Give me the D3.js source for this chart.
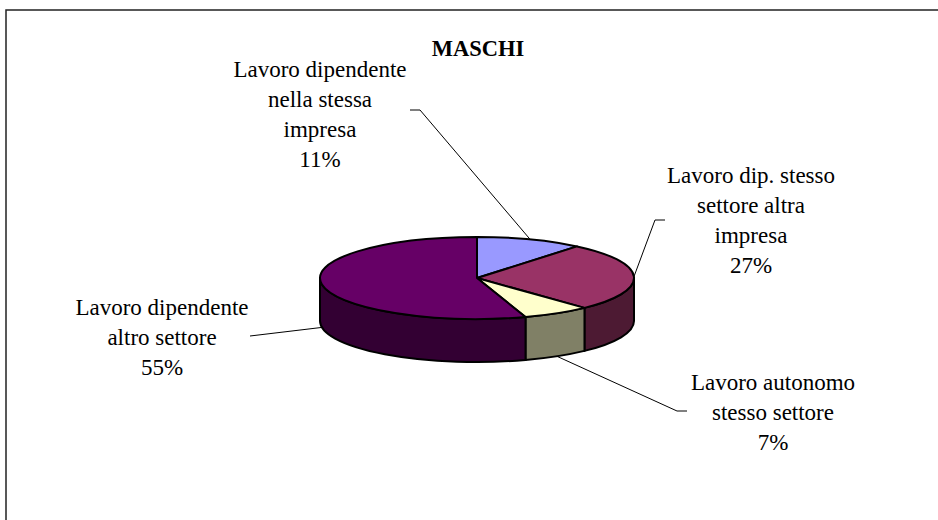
<!DOCTYPE html>
<html>
<head>
<meta charset="utf-8">
<script src="https://cdn.jsdelivr.net/npm/d3@7"></script>
<style>
  body { margin: 0; background: #fff; }
</style>
</head>
<body>
<script>
// dimensioni della pagina
const w = 938;
const h = 520;
const font = "Liberation Serif";

// dati
const title = "MASCHI";
const categories = [
  "Lavoro dipendente nella stessa impresa",
  "Lavoro dip. stesso settore altra impresa",
  "Lavoro autonomo stesso settore",
  "Lavoro dipendente altro settore",
];
const labelLines = [
  ["Lavoro dipendente", "nella stessa", "impresa"],
  ["Lavoro dip. stesso", "settore altra", "impresa"],
  ["Lavoro autonomo", "stesso settore"],
  ["Lavoro dipendente", "altro settore"],
];
const values = [11, 27, 7, 55];
const topColors = ["#9999ff", "#993366", "#ffffcc", "#660066"];
const sideColors = ["#4d4d80", "#4d1a33", "#808066", "#330033"];

// geometria della torta 3D
const cx = 477, cy = 278, rx = 157, ry = 41, depth = 43;

// posizione delle etichette (centro, prima linea di base) e gomito della linea guida
const labelPos = [
  { x: 320, y: 77, lead: [[410, 110], [420, 110]] },
  { x: 751, y: 183, lead: [[665, 220], [655, 220]] },
  { x: 773, y: 390, lead: [[687, 411], [677, 411]] },
  { x: 162, y: 315, lead: [[250, 336]] },
];

const svg = d3.select("body").append("svg").attr("width", w).attr("height", h);

// cornice
svg.append("rect")
  .attr("x", 6).attr("y", 10)
  .attr("width", w + 20).attr("height", h + 20)
  .attr("fill", "none")
  .attr("stroke", "#222")
  .attr("stroke-width", 1.5);

// titolo
svg.append("text")
  .attr("x", cx + 1).attr("y", 56)
  .attr("text-anchor", "middle")
  .attr("font-family", font)
  .attr("font-size", "22.5px")
  .attr("font-weight", "bold")
  .text(title);

const pie = d3.pie().sort(null).value(d => d);
const arcs = pie(values);

// punto sull'ellisse: angolo da ore 12 in senso orario
function pt(a, dy) {
  return [cx + rx * Math.sin(a), cy - ry * Math.cos(a) + (dy || 0)];
}

function topPath(d) {
  const p0 = pt(d.startAngle), p1 = pt(d.endAngle);
  const large = d.endAngle - d.startAngle > Math.PI ? 1 : 0;
  return `M${cx},${cy}L${p0}A${rx},${ry} 0 ${large} 1 ${p1}Z`;
}

function sidePath(d) {
  const s = Math.max(d.startAngle, Math.PI / 2);
  const e = Math.min(d.endAngle, Math.PI * 1.5);
  if (e <= s) return null;
  const p0 = pt(s), p1 = pt(e), q0 = pt(s, depth), q1 = pt(e, depth);
  return `M${p0}A${rx},${ry} 0 0 1 ${p1}L${q1}A${rx},${ry} 0 0 0 ${q0}Z`;
}

const g = svg.append("g");

// pareti laterali
g.selectAll("path.side")
  .data(arcs.filter(d => sidePath(d)))
  .enter()
  .append("path")
  .attr("class", "side")
  .attr("d", sidePath)
  .attr("fill", d => sideColors[d.index])
  .attr("stroke", "#000")
  .attr("stroke-width", 2)
  .attr("stroke-linejoin", "round");

// spicchi superiori
g.selectAll("path.top")
  .data(arcs)
  .enter()
  .append("path")
  .attr("class", "top")
  .attr("d", topPath)
  .attr("fill", d => topColors[d.index])
  .attr("stroke", "#000")
  .attr("stroke-width", 2)
  .attr("stroke-linejoin", "round");

// punto di aggancio della linea guida sul bordo dello spicchio
function anchor(d) {
  const a = (d.startAngle + d.endAngle) / 2;
  const front = Math.cos(a) < 0;
  return pt(a, front ? depth : 0);
}

// linee guida
svg.selectAll("path.leader")
  .data(arcs)
  .enter()
  .append("path")
  .attr("class", "leader")
  .attr("d", d => d3.line()(labelPos[d.index].lead.concat([anchor(d)])))
  .attr("fill", "none")
  .attr("stroke", "#000")
  .attr("stroke-width", 1);

// etichette: una riga di testo per elemento
const labelRows = [];
arcs.forEach(d => {
  labelLines[d.index].concat([values[d.index] + "%"]).forEach((l, i) => {
    labelRows.push({ text: l, x: labelPos[d.index].x, y: labelPos[d.index].y + i * 30 });
  });
});

svg.selectAll("text.label")
  .data(labelRows)
  .enter()
  .append("text")
  .attr("class", "label")
  .attr("text-anchor", "middle")
  .attr("font-family", font)
  .attr("font-size", "23px")
  .attr("x", d => d.x)
  .attr("y", d => d.y)
  .text(d => d.text);
</script>
</body>
</html>
